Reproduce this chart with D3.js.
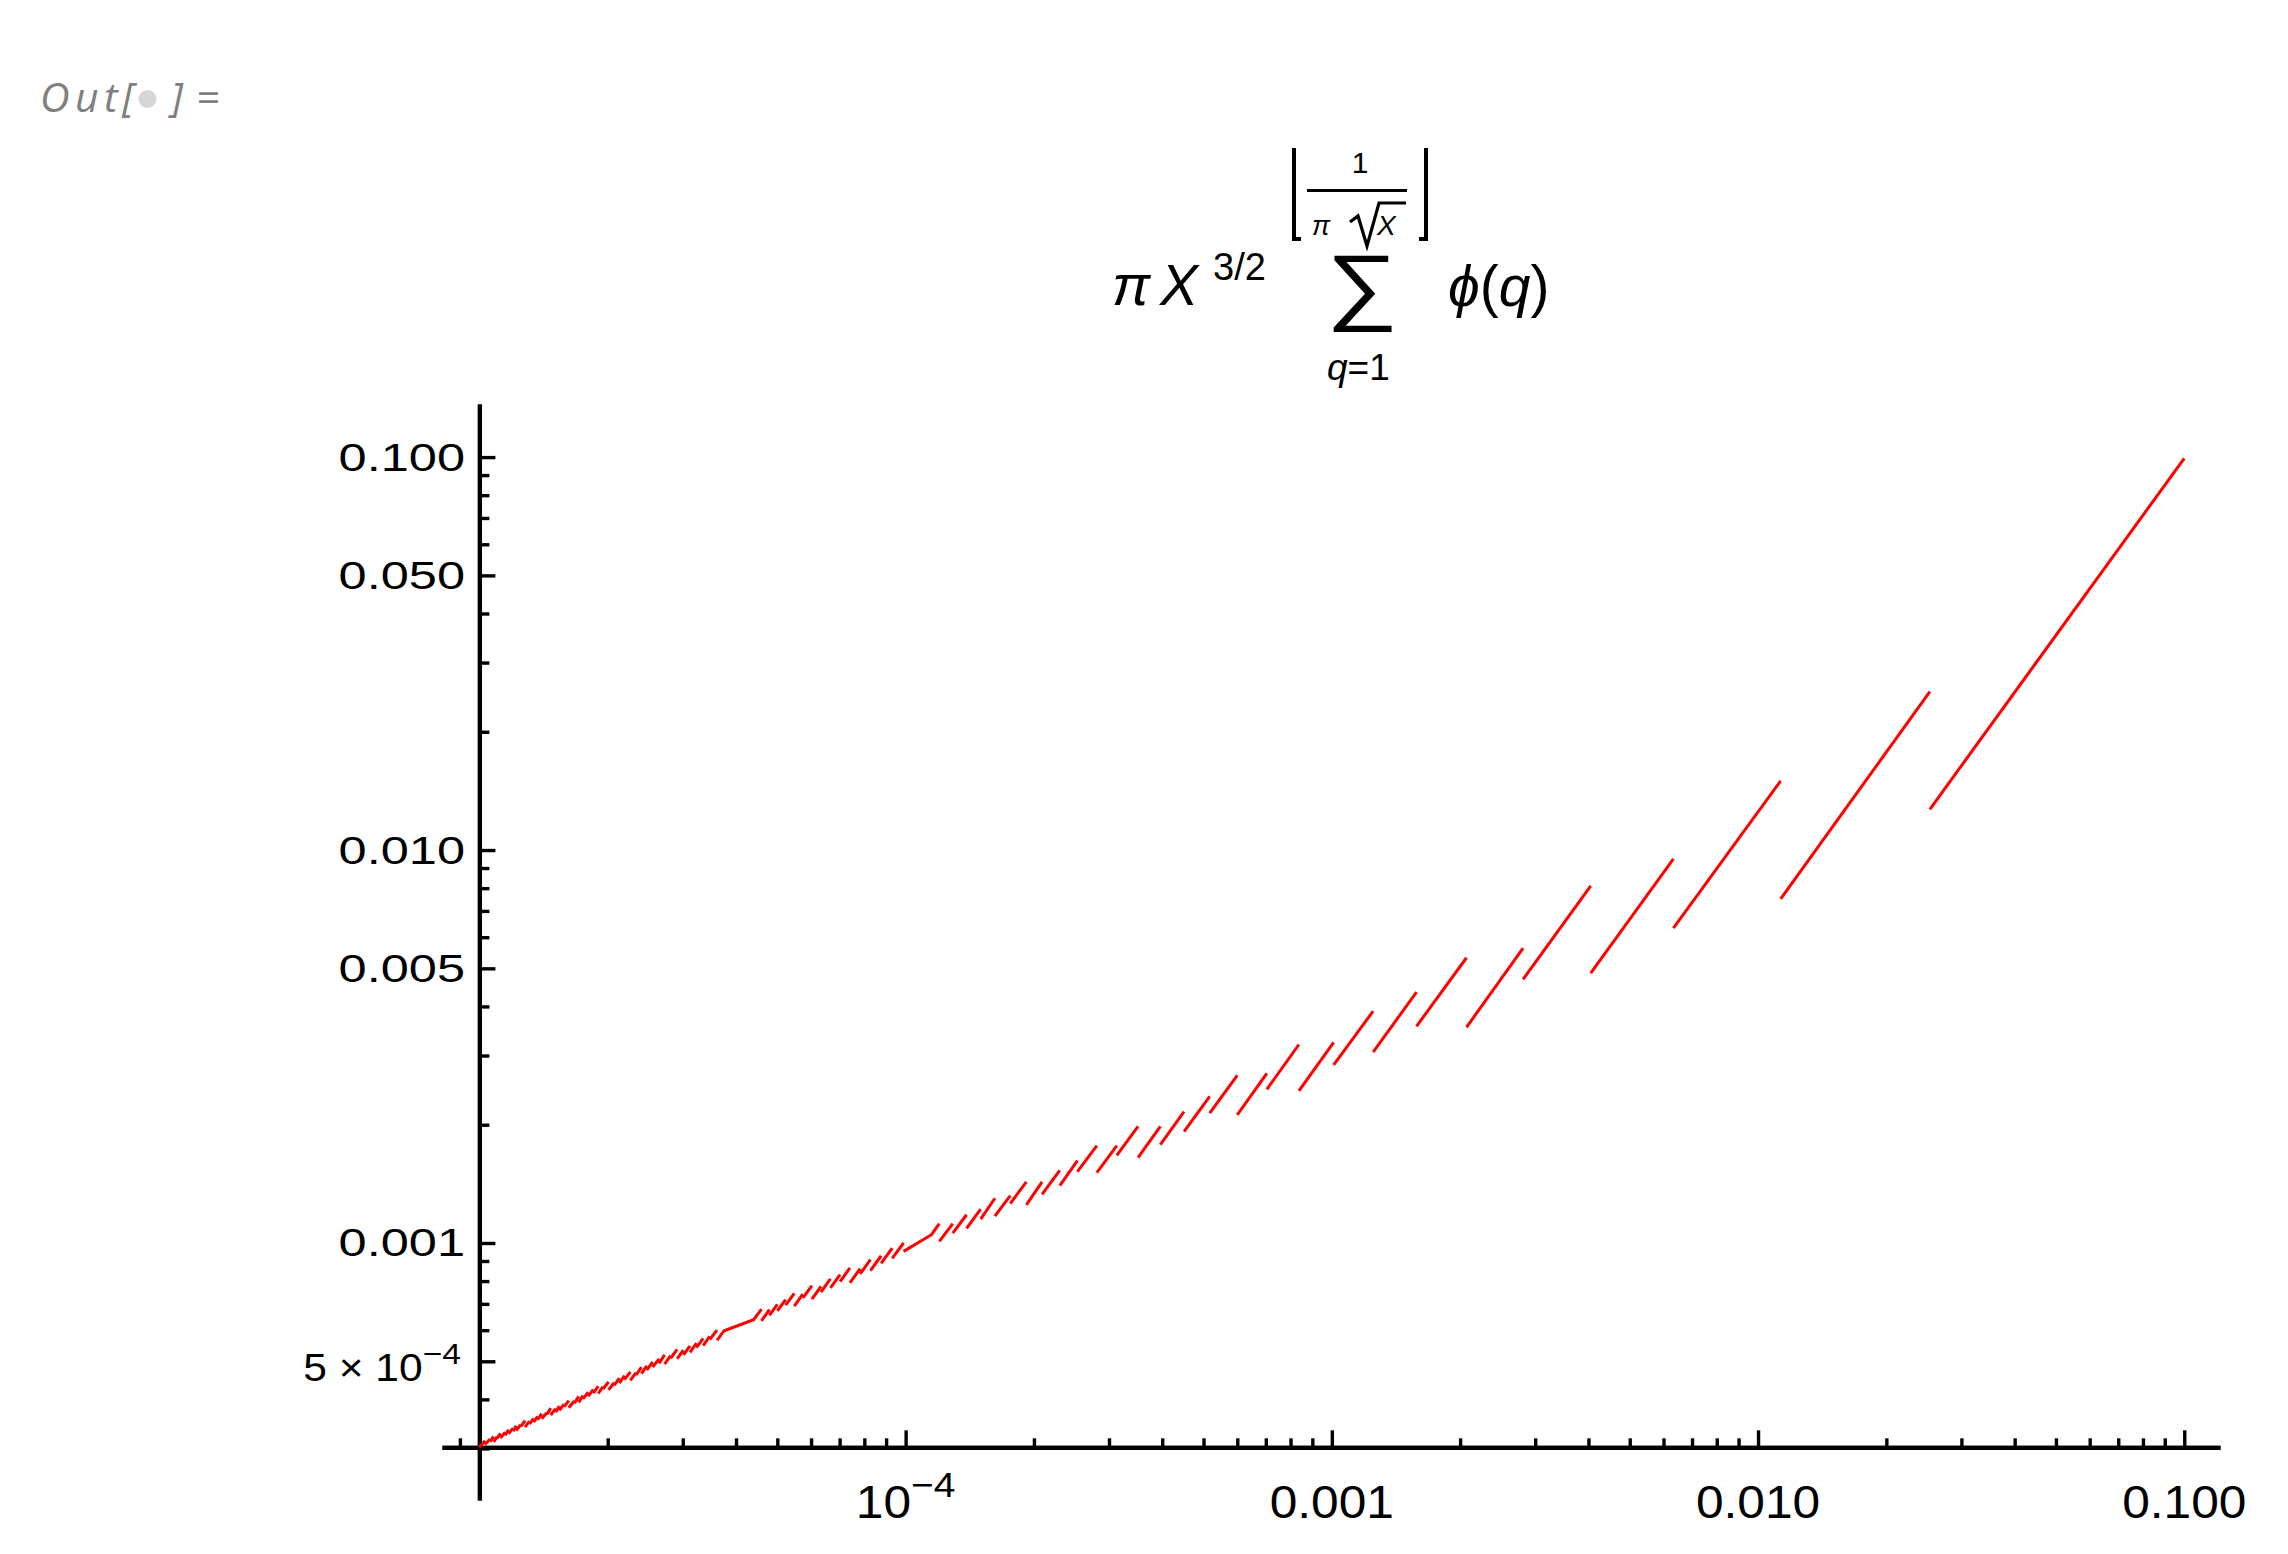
<!DOCTYPE html>
<html>
<head>
<meta charset="utf-8">
<script src="https://cdn.jsdelivr.net/npm/d3@7"></script>
<style>
  body { margin: 0; background: #fff; }
  svg text { font-family: "Liberation Sans", Arial, sans-serif; fill: #000; }
</style>
</head>
<body>
<svg id="chart" width="2288" height="1554"></svg>
<script>
// ---- data ----
// each plain segment: left end (segXStart, segYStart) -> right end (segXEnd, segYEnd)
const segXStart = [
  0.0253, 0.0113, 0.00633, 0.00405, 0.00281, 0.00207, 0.00158, 0.00125, 0.00101, 8.37e-4,
  7.04e-4, 6.00e-4, 5.17e-4, 4.50e-4, 3.96e-4, 3.51e-4, 3.13e-4, 2.81e-4, 2.53e-4, 2.30e-4,
  2.09e-4, 1.92e-4, 1.76e-4, 1.62e-4, 1.50e-4, 1.39e-4, 1.29e-4, 1.20e-4,
  9.30e-5, 8.76e-5, 8.27e-5, 7.82e-5, 7.40e-5, 7.02e-5, 6.66e-5, 6.33e-5, 6.03e-5, 5.74e-5,
  5.48e-5, 5.23e-5, 5.00e-5, 4.79e-5, 4.59e-5,
  3.47e-5, 3.35e-5, 3.23e-5, 3.12e-5, 3.01e-5, 2.91e-5, 2.81e-5, 2.72e-5, 2.64e-5, 2.55e-5,
  2.47e-5, 2.40e-5, 2.33e-5, 2.26e-5, 2.19e-5, 2.13e-5, 2.07e-5, 2.01e-5, 1.95e-5, 1.90e-5,
  1.85e-5, 1.80e-5, 1.75e-5, 1.71e-5, 1.67e-5, 1.62e-5, 1.58e-5, 1.54e-5, 1.51e-5, 1.47e-5,
  1.44e-5, 1.40e-5, 1.37e-5, 1.34e-5, 1.31e-5, 1.28e-5, 1.25e-5, 1.22e-5, 1.20e-5, 1.17e-5,
  1.15e-5, 1.12e-5, 1.10e-5, 1.08e-5, 1.06e-5, 1.03e-5, 1.01e-5, 1.00e-5
];
const segXEnd = [
  0.1, 0.0253, 0.0113, 0.00633, 0.00405, 0.00281, 0.00207, 0.00158, 0.00125, 0.00101,
  8.37e-4, 7.04e-4, 6.00e-4, 5.17e-4, 4.50e-4, 3.96e-4, 3.51e-4, 3.13e-4, 2.81e-4, 2.53e-4,
  2.30e-4, 2.09e-4, 1.92e-4, 1.76e-4, 1.62e-4, 1.50e-4, 1.39e-4, 1.29e-4,
  9.89e-5, 9.30e-5, 8.76e-5, 8.27e-5, 7.82e-5, 7.40e-5, 7.02e-5, 6.66e-5, 6.33e-5, 6.03e-5,
  5.74e-5, 5.48e-5, 5.23e-5, 5.00e-5, 4.79e-5,
  3.61e-5, 3.47e-5, 3.35e-5, 3.23e-5, 3.12e-5, 3.01e-5, 2.91e-5, 2.81e-5, 2.72e-5, 2.64e-5,
  2.55e-5, 2.47e-5, 2.40e-5, 2.33e-5, 2.26e-5, 2.19e-5, 2.13e-5, 2.07e-5, 2.01e-5, 1.95e-5,
  1.90e-5, 1.85e-5, 1.80e-5, 1.75e-5, 1.71e-5, 1.67e-5, 1.62e-5, 1.58e-5, 1.54e-5, 1.51e-5,
  1.47e-5, 1.44e-5, 1.40e-5, 1.37e-5, 1.34e-5, 1.31e-5, 1.28e-5, 1.25e-5, 1.22e-5, 1.20e-5,
  1.17e-5, 1.15e-5, 1.12e-5, 1.10e-5, 1.08e-5, 1.06e-5, 1.03e-5, 1.01e-5
];
const segYStart = [
  0.0127, 0.00751, 0.00633, 0.00486, 0.00469, 0.00354, 0.00356, 0.00306, 0.00284, 0.00244,
  0.00246, 0.00212, 0.00214, 0.00192, 0.00178, 0.00165, 0.00167, 0.00151, 0.00152, 0.00140,
  0.00133, 0.00125, 0.00126, 0.00117, 0.00115, 0.00109, 0.00106, 0.00101,
  9.14e-4, 8.87e-4, 8.51e-4, 8.34e-4, 7.92e-4, 7.98e-4, 7.69e-4, 7.50e-4, 7.20e-4, 7.25e-4,
  6.91e-4, 6.95e-4, 6.72e-4, 6.54e-4, 6.34e-4,
  5.68e-4, 5.48e-4, 5.42e-4, 5.27e-4, 5.19e-4, 5.07e-4, 5.09e-4, 4.92e-4, 4.94e-4, 4.83e-4,
  4.75e-4, 4.65e-4, 4.61e-4, 4.47e-4, 4.49e-4, 4.40e-4, 4.34e-4, 4.23e-4, 4.25e-4, 4.14e-4,
  4.15e-4, 4.07e-4, 4.01e-4, 3.93e-4, 3.91e-4, 3.81e-4, 3.83e-4, 3.75e-4, 3.71e-4, 3.65e-4,
  3.66e-4, 3.57e-4, 3.55e-4, 3.50e-4, 3.46e-4, 3.40e-4, 3.41e-4, 3.33e-4, 3.32e-4, 3.27e-4,
  3.24e-4, 3.19e-4, 3.18e-4, 3.12e-4, 3.12e-4, 3.07e-4, 3.04e-4, 3.02e-4
];
const segYEnd = [
  0.0993, 0.0253, 0.0150, 0.00950, 0.00811, 0.00563, 0.00532, 0.00435, 0.00389, 0.00324,
  0.00320, 0.00270, 0.00267, 0.00236, 0.00216, 0.00198, 0.00198, 0.00177, 0.00177, 0.00162,
  0.00153, 0.00143, 0.00143, 0.00132, 0.00130, 0.00122, 0.00118, 0.00112,
  1.00e-3, 9.70e-4, 9.28e-4, 9.07e-4, 8.60e-4, 8.64e-4, 8.31e-4, 8.10e-4, 7.76e-4, 7.79e-4,
  7.41e-4, 7.44e-4, 7.18e-4, 6.98e-4, 6.77e-4,
  6.00e-4, 5.79e-4, 5.72e-4, 5.56e-4, 5.47e-4, 5.34e-4, 5.36e-4, 5.17e-4, 5.19e-4, 5.07e-4,
  4.98e-4, 4.87e-4, 4.83e-4, 4.68e-4, 4.70e-4, 4.60e-4, 4.53e-4, 4.41e-4, 4.43e-4, 4.31e-4,
  4.32e-4, 4.24e-4, 4.17e-4, 4.09e-4, 4.07e-4, 3.96e-4, 3.97e-4, 3.89e-4, 3.85e-4, 3.79e-4,
  3.80e-4, 3.70e-4, 3.68e-4, 3.62e-4, 3.58e-4, 3.52e-4, 3.53e-4, 3.45e-4, 3.43e-4, 3.38e-4,
  3.35e-4, 3.30e-4, 3.28e-4, 3.21e-4, 3.22e-4, 3.17e-4, 3.14e-4, 3.08e-4
];
// places where the plot joined several pieces into one line
const bridgeX = [
  [9.89e-5, 1.15e-4, 1.20e-4],
  [3.61e-5, 3.75e-5, 4.40e-5, 4.59e-5]
];
const bridgeY = [
  [9.52e-4, 1.05e-3, 1.12e-3],
  [5.65e-4, 5.98e-4, 6.38e-4, 6.79e-4]
];

// ticks
const xMajorTicks = [1e-4, 1e-3, 1e-2, 1e-1];
const xTickLabels = [["10", "\u22124"], ["0.001", ""], ["0.010", ""], ["0.100", ""]];
const xMinorTicks = [9e-6, 2e-5, 3e-5, 4e-5, 5e-5, 6e-5, 7e-5, 8e-5, 9e-5,
  2e-4, 3e-4, 4e-4, 5e-4, 6e-4, 7e-4, 8e-4, 9e-4,
  2e-3, 3e-3, 4e-3, 5e-3, 6e-3, 7e-3, 8e-3, 9e-3,
  2e-2, 3e-2, 4e-2, 5e-2, 6e-2, 7e-2, 8e-2, 9e-2];
const yMajorTicks = [0.1, 0.05, 0.01, 0.005, 0.001, 5e-4];
const yTickLabels = [["0.100", ""], ["0.050", ""], ["0.010", ""], ["0.005", ""], ["0.001", ""], ["5 \u00d7 10", "\u22124"]];
const yMinorTicks = [3e-4, 4e-4, 6e-4, 7e-4, 8e-4, 9e-4,
  2e-3, 3e-3, 4e-3, 6e-3, 7e-3, 8e-3, 9e-3,
  0.02, 0.03, 0.04, 0.06, 0.07, 0.08, 0.09];
const originX = 1e-5, originY = 3.02e-4;

// ---- layout ----
const width = 2288, height = 1554;
const svg = d3.select("#chart");
svg.append("rect").attr("width", width).attr("height", height).attr("fill", "#fff");

const x = d3.scaleLog().domain([8.17e-6, 0.1213]).range([442, 2220]);
const y = d3.scaleLog().domain([2.218e-4, 0.1365]).range([1500, 404]);

// x axis (ticks point up, into the plot)
const xAxisG = svg.append("g").attr("transform", `translate(0,${y(originY)})`);
xAxisG.append("g")
  .call(d3.axisBottom(x).tickValues(xMinorTicks).tickSizeInner(-9).tickSizeOuter(0).tickFormat(""));
xAxisG.append("g")
  .call(d3.axisBottom(x).tickValues(xMajorTicks).tickSizeInner(-17).tickSizeOuter(0).tickFormat(""));

// y axis (ticks point right)
const yAxisG = svg.append("g").attr("transform", `translate(${x(originX)},0)`);
yAxisG.append("g")
  .call(d3.axisLeft(y).tickValues(yMinorTicks).tickSizeInner(-10).tickSizeOuter(0).tickFormat(""));
yAxisG.append("g")
  .call(d3.axisLeft(y).tickValues(yMajorTicks).tickSizeInner(-16).tickSizeOuter(0).tickFormat(""));

svg.selectAll(".domain").attr("stroke", "#000").attr("stroke-width", 4.2);
svg.selectAll(".tick line").attr("stroke", "#000").attr("stroke-width", 3.4);

// tick labels
xMajorTicks.forEach((v, i) => {
  const t = svg.append("text")
    .attr("text-anchor", "middle")
    .attr("font-size", 46)
    .attr("transform", `translate(${x(v)},1518) scale(1.08,1)`);
  t.append("tspan").text(xTickLabels[i][0]);
  if (xTickLabels[i][1]) {
    t.append("tspan").attr("font-size", 36).attr("dy", -21).text(xTickLabels[i][1]);
  }
});

yMajorTicks.forEach((v, i) => {
  const sup = yTickLabels[i][1];
  const t = svg.append("text")
    .attr("text-anchor", "end")
    .attr("font-size", 38);
  if (sup) {
    t.attr("transform", `translate(461,${y(v) + 20}) scale(1.12,1)`);
  } else {
    t.attr("transform", `translate(465,${y(v) + 13.5}) scale(1.33,1)`);
  }
  t.append("tspan").text(yTickLabels[i][0]);
  if (sup) {
    t.append("tspan").attr("font-size", 30).attr("dy", -17).text(sup);
  }
});

// the curve
const runs = segXStart.map((x0, i) => [[x0, segYStart[i]], [segXEnd[i], segYEnd[i]]])
  .concat(bridgeX.map((xs, i) => xs.map((v, j) => [v, bridgeY[i][j]])));
const line = d3.line().x(d => x(d[0])).y(d => y(d[1]));
svg.append("g").selectAll("path")
  .data(runs)
  .join("path")
  .attr("d", line)
  .attr("fill", "none")
  .attr("stroke", "#ff0000")
  .attr("stroke-width", 3);

// ---- title: pi X^(3/2) sum_{q=1}^{floor(1/(pi sqrt X))} phi(q) ----
const title = svg.append("g");
function put(str, px, py, size, italic, anchor) {
  return title.append("text")
    .attr("x", px).attr("y", py)
    .attr("font-size", size)
    .attr("font-style", italic ? "italic" : "normal")
    .attr("text-anchor", anchor || "start")
    .text(str);
}
put("\u03c0", 1112, 305, 57, true);
put("X", 1160, 305, 57, true);
put("3/2", 1213, 280, 38, false);

// summation sign fitted to its box
const sig = put("\u2211", 0, 0, 90, false);
const sb = sig.node().getBBox();
sig.attr("transform",
  `translate(1326,238) scale(${72 / sb.width},${95 / sb.height}) translate(${-sb.x},${-sb.y})`);

const lower = title.append("text").attr("x", 1327).attr("y", 380).attr("font-size", 37);
lower.append("tspan").attr("font-style", "italic").text("q");
lower.append("tspan").text("=1");

// upper limit
put("1", 1360, 173, 30, false, "middle");
title.append("line").attr("x1", 1307).attr("x2", 1407).attr("y1", 190.5).attr("y2", 190.5)
  .attr("stroke", "#000").attr("stroke-width", 3);
put("\u03c0", 1312, 235, 27, true);
title.append("path")
  .attr("d", "M1350,222 L1358,216 L1367,246 L1379,203 L1406,203")
  .attr("fill", "none").attr("stroke", "#000").attr("stroke-width", 3.2)
  .attr("stroke-linejoin", "miter");
put("X", 1377, 235, 28, true);
title.append("path")
  .attr("d", "M1294,148 L1294,239 L1301,239 M1426,148 L1426,239 L1419,239")
  .attr("fill", "none").attr("stroke", "#000").attr("stroke-width", 4);

const phi = title.append("text").attr("x", 1448).attr("y", 306).attr("font-size", 57);
phi.append("tspan").attr("font-style", "italic").text("\u03d5");
phi.append("tspan").text("(");
phi.append("tspan").attr("font-style", "italic").text("q");
phi.append("tspan").text(")");

// notebook output label
const outLab = svg.append("g");
[["O", 40], ["u", 75], ["t", 104], ["[", 122], ["]", 171], ["=", 196]].forEach(([c, px]) => {
  outLab.append("text").attr("x", px).attr("y", 112)
    .attr("font-size", 41)
    .attr("font-style", "italic")
    .style("fill", "#808080")
    .style("font-family", "'Open Sans', 'Noto Sans', sans-serif")
    .text(c);
});
outLab.append("circle").attr("cx", 147.5).attr("cy", 99).attr("r", 9).attr("fill", "#d6d6d6");
</script>
</body>
</html>
